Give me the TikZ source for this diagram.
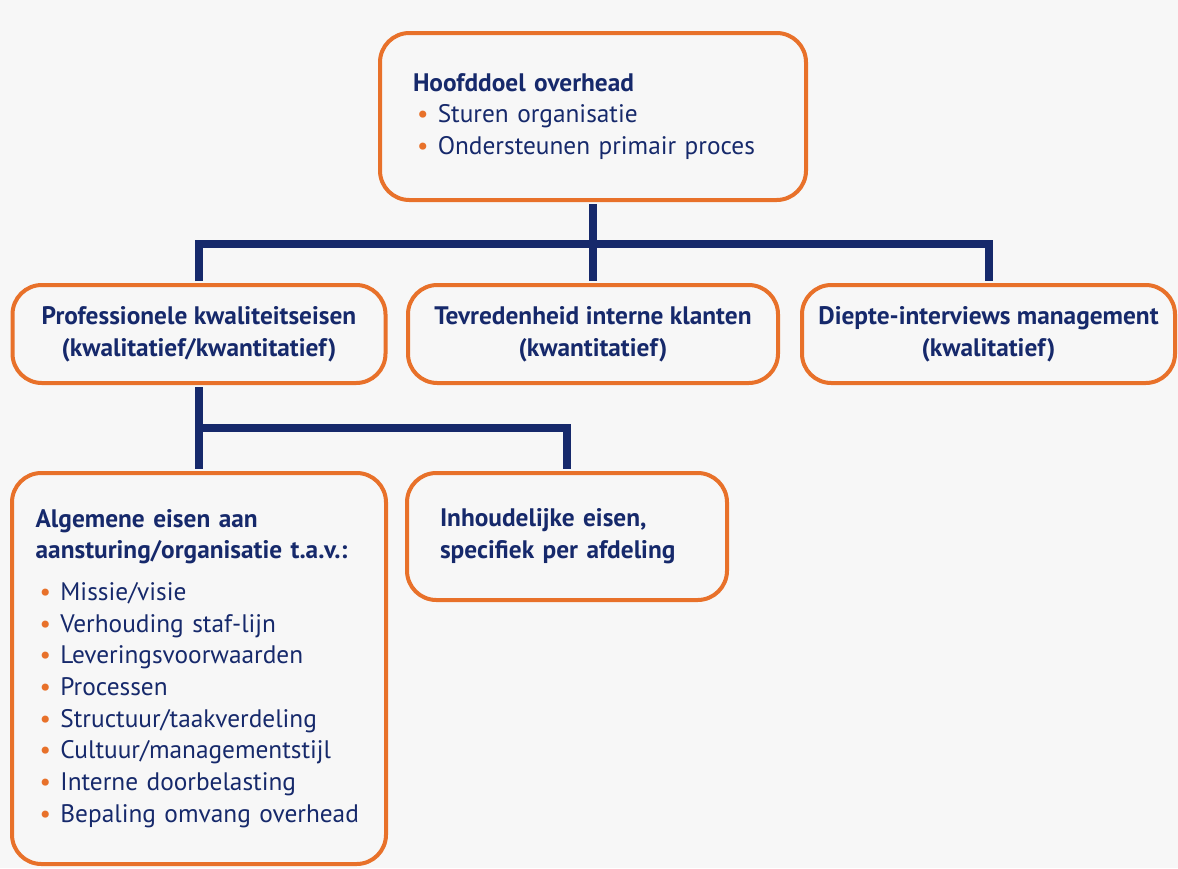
\documentclass[tikz,border=0pt]{standalone}
\usepackage{fontspec}
\setmainfont{PT Sans}
\definecolor{oranje}{HTML}{E8712A}
\definecolor{blauw}{HTML}{16296B}
\definecolor{grijs}{HTML}{F7F7F7}
\newcommand{\punt}{\hspace*{3pt}\textcolor{oranje}{\textbullet}\hspace{7pt}}

\begin{document}
\begin{tikzpicture}[x=0.75pt, y=-0.75pt,
        kader/.style={draw=oranje, line width=3pt, rounded corners=22pt, fill=grijs,
            text=blauw, font=\fontsize{19}{23.75}\selectfont, inner sep=0pt},
        lijn/.style={draw=blauw, line width=6pt, shorten <=1.5pt, shorten >=1.5pt}]
        \fill[grijs] (0, 0) rectangle (1178, 868);
        \useasboundingbox (0, 0) rectangle (1178, 868);

        \node[kader, minimum width=319.5pt, minimum height=125.25pt, text width=270pt, align=left] (top) at (593, 116.5) {
            \textbf{Hoofddoel overhead}\\
            \punt Sturen organisatie\\
            \punt Ondersteunen primair proces
        };

        \node[kader, minimum width=279.75pt, minimum height=73.5pt, align=center] (prof) at (199, 334) {
            \textbf{Professionele kwaliteitseisen}\\\textbf{(kwalitatief/kwantitatief)}
        };
        \node[kader, minimum width=277.5pt, minimum height=73.5pt, align=center] (tevr) at (593, 334) {
            \textbf{Tevredenheid interne klanten}\\\textbf{(kwantitatief)}
        };
        \node[kader, minimum width=279.75pt, minimum height=73.5pt, align=center] (diep) at (988.5, 334) {
            \textbf{Diepte-interviews management}\\\textbf{(kwalitatief)}
        };

        \node[kader, minimum width=280.5pt, minimum height=293.25pt, text width=245pt, align=left] (alg) at (199, 668.5) {
            \textbf{Algemene eisen aan}\\
            \textbf{aansturing/organisatie t.a.v.:}\\[7.5pt]
            \punt Missie/visie\\
            \punt Verhouding staf-lijn\\
            \punt Leveringsvoorwaarden\\
            \punt Processen\\
            \punt Structuur/taakverdeling\\
            \punt Cultuur/managementstijl\\
            \punt Interne doorbelasting\\
            \punt Bepaling omvang overhead
        };
        \node[kader, minimum width=240pt, minimum height=95.25pt, text width=190.5pt, align=left] (inh) at (567, 536.5) {
            \textbf{Inhoudelijke eisen,}\\
            \textbf{specifiek per afdeling}
        };

        \coordinate (bus1) at (593, 244);
        \coordinate (bus2) at (199, 428);
        \draw[lijn] (top.south) -- (tevr.north);
        \draw[lijn] (prof.north) |- (bus1) -| (diep.north);
        \draw[lijn] (prof.south) -- (alg.north);
        \draw[lijn] (bus2) -| (inh.north);
    \end{tikzpicture}
\end{document}
